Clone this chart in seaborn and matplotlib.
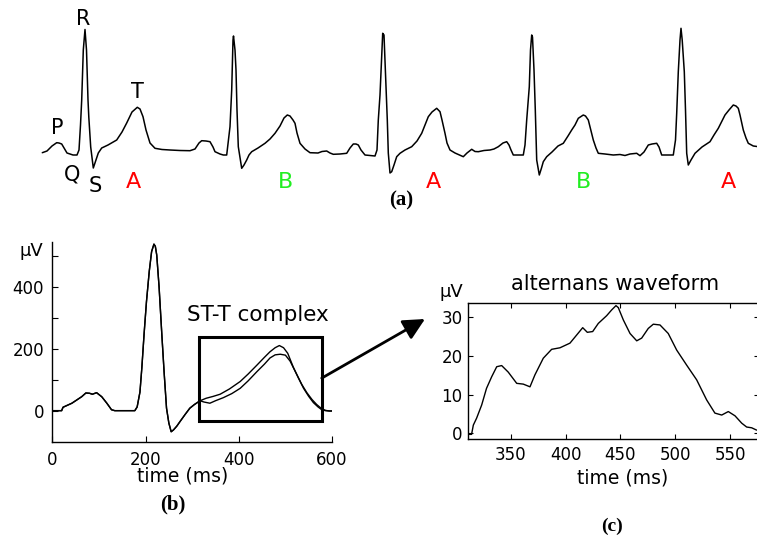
import matplotlib
matplotlib.use("Agg")
import matplotlib.pyplot as plt
from matplotlib.patches import Rectangle
import seaborn as sns

sns.set_theme(style="white")
plt.rcParams['font.family'] = ['DejaVu Sans']
plt.rcParams['text.color'] = 'black'
plt.rcParams['axes.labelcolor'] = 'black'
plt.rcParams['xtick.color'] = 'black'
plt.rcParams['ytick.color'] = 'black'

# ---- (a) ECG strip (sample position, amplitude) ----
strip_t = [42.3, 47, 52, 56.7, 59, 61.7, 64, 67, 73, 77, 79, 80.5, 81.7, 83.3, 85, 86.5, 88, 88.8,
           90.7, 93.3, 95, 98.3, 101.7, 108, 116.7, 122, 126.7, 132, 137.3, 140, 143, 146, 150,
           155, 162, 170, 180, 190, 195, 199, 201.7, 206, 210, 213, 215, 220, 223.3, 226.7,
           228.5, 230, 231.7, 233, 233.5, 235, 236, 237, 238.3, 241.7, 244, 246.7, 249, 251.7,
           258, 265, 270, 275, 280, 284, 287.3, 290, 293, 295, 297, 300, 305, 310, 318, 322,
           326.7, 330, 333.3, 340, 346.7, 350, 353.3, 356, 358.3, 361, 365, 370, 375, 377,
           378.3, 380, 381.5, 382.7, 384, 385, 386, 387.3, 388.3, 390, 391.7, 394, 396.7, 400,
           405, 411.7, 417, 421.7, 425, 428.3, 432, 436.7, 440, 442, 445, 447, 450, 455, 463.3,
           467, 471.7, 475, 478.3, 484, 490, 494, 498.3, 503, 506.7, 509, 511, 513.3, 518,
           523.3, 525, 526.7, 529.3, 530.5, 531.7, 532.5, 534, 535.3, 536.7, 539.3, 541.5,
           543.3, 546.7, 552, 558, 563.3, 568, 571.7, 575, 578.3, 583.3, 585.5, 588.3, 590,
           593.3, 596, 598.3, 605, 613.3, 620, 625, 630, 636.7, 640, 644, 648.3, 652, 656.7,
           659, 661.7, 667, 673.3, 675.5, 676.7, 678.3, 680, 681, 682.2, 684.3, 685.5, 686.7,
           688.3, 691, 695, 702, 710, 714, 718.3, 722, 725, 729, 733.3, 736, 738.3, 740, 743.3,
           746, 748.3, 753.3, 757]
strip_amp = [-0.7, 1, 6, 9.3, 9, 8, 4, -1, -3, -3, 2, 27, 52, 102, 122.5, 102, 52, 35,
             5, -16, -11, -1, 4, 7, 12, 20, 29, 40, 44.7, 43, 35.3, 22, 9,
             3.7, 2.5, 2, 1.5, 1.3, 3, 9, 11.3, 11, 10.3, 5, 0.3, -2, -3, -3,
             12, 25.3, 62, 112, 116, 102, 82, 42, 5.3, -16.3, -13, -8, -3, 0.3,
             4, 8.7, 13, 18.7, 26, 34, 37, 36, 32, 28.7, 19, 8.7, 3, -0.7, -1, 0.5,
             1, -1, -2.3, -2, -1.3, 4, 8, 8, 7, 2, -3, -3.5, -4, 2,
             32, 57, 92, 118.7, 117, 92, 65.3, 32, -1, -21, -19.7, -13, -4.7, -1.3,
             2, 5.3, 11, 18.7, 27, 35.3, 40, 43.7, 40.3, 32, 18.7, 9, 2, -1, -4.7,
             -1, 2.7, 0.5, 0.3, 1.5, 2, 3, 5.3, 9, 10.3, 7, 2, -3, -3,
             -3, 7, 32, 65.3, 102, 117, 115, 82, 42, -8, -23, -16,
             -9.7, -4.7, 0, 6, 8.7, 16, 22, 27, 33.7, 37, 36, 32, 25.3,
             12, 4, -1.3, -2, -3, -2.5, -3.5, -2, -1.3, -3.7, 0, 7, 8, 8.7,
             5, -3, -3, -3, 12, 38.7, 80.3, 112, 123.7, 112, 80.3, 42, -1.3,
             -13, -8, -1.3, 5, 10.3, 17, 23.7, 31, 37, 42, 47, 46, 43.7, 37, 22,
             14, 8.7, 6, 5.5]
wave_labels = ["P", "Q", "R", "S", "T"]
wave_label_t = [57, 72, 83, 95, 137]
wave_label_amp = [24.5, -22.5, 133, -34.5, 59.5]
beat_labels = ["A", "B", "A", "B", "A"]
beat_label_t = [133.5, 285, 433, 584, 728]

# ---- (b) averaged beat (ms, uV) ----
beat_t = [0, 20, 23, 42, 63, 72, 80, 86, 95, 100, 106, 117, 127, 134, 177, 182, 188, 192, 197,
          202, 208, 213, 218, 221, 224, 229, 235, 240, 245, 250, 255, 260, 267, 274, 285,
          295, 305, 317]
beat_v = [0, 0, 11, 24, 45, 57, 56, 53, 58, 52, 45, 24, 3, 0, 0, 12, 60, 137, 250,
          352, 450, 513, 537, 530, 502, 400, 244, 120, 8, -40, -68, -62, -50, -35, -12,
          8, 20, 32]
stt_upper_t = [317, 330, 345, 360, 380, 403, 420, 439, 455, 467, 478, 487, 496, 505, 517, 528,
               539, 550, 560, 570, 578, 586, 594, 600]
stt_upper_v = [32, 40, 46, 53, 70, 94, 118, 147, 172, 190, 203, 210, 203, 185, 140, 105,
               72, 46, 26, 12, 3, 0, -1, -1]
stt_lower_t = [317, 325, 338, 350, 367, 385, 403, 420, 439, 455, 467, 478, 489, 500, 510, 524,
               535, 546, 557, 567, 578, 586, 594, 600]
stt_lower_v = [32, 28, 24, 32, 42, 55, 72, 96, 126, 150, 170, 180, 182, 179, 160, 118,
               85, 58, 36, 20, 6, 1, -1, -1]

# ---- (c) alternans waveform (ms, uV) ----
alt_t = [312.3, 314.4, 316, 319, 323.6, 328, 332.7, 337.3, 341.8, 347.8, 355.5, 361.5, 367.6,
         372.1, 379.7, 387.3, 394.9, 404, 410.1, 415.6, 419.8, 424.7, 429.8, 437.4, 442,
         445.9, 448, 452.6, 458.7, 464.8, 469.3, 475.3, 479.9, 486, 493.5, 501.2, 510.3,
         519.4, 528.5, 536, 542.2, 548.2, 554.3, 560.4, 564.9, 569.5, 574]
alt_v = [-0.3, -0.3, 2.1, 3.9, 7.3, 11.6, 14.6, 17.2, 17.5, 15.8, 12.9, 12.7, 12.0,
         15.1, 19.4, 21.7, 22.1, 23.3, 25.4, 27.3, 26.1, 26.3, 28.4, 30.4, 31.9,
         33.0, 32.5, 29.3, 25.8, 23.9, 24.6, 27.1, 28.2, 28.0, 25.8, 21.5, 17.6,
         13.8, 8.6, 5.2, 4.7, 5.6, 4.5, 2.6, 1.6, 1.4, 0.8]

fig = plt.figure(figsize=(7.57, 5.38), dpi=100)

# (a)
ax_a = fig.add_axes([0, 0.6, 1, 0.4])
sns.lineplot(x=strip_t, y=strip_amp, ax=ax_a, color="black", lw=1.1, estimator=None, sort=False)
ax_a.set_xlim(0, 757)
ax_a.set_ylim(-63.2, 152)
ax_a.axis("off")
for lab, t, a in zip(wave_labels, wave_label_t, wave_label_amp):
    ax_a.text(t, a, lab, fontsize=15, ha="center", va="center")
for lab, t in zip(beat_labels, beat_label_t):
    ax_a.text(t, -30.5, lab, fontsize=16, ha="center", va="center",
              color="#ff0000" if lab == "A" else "#22ee22")
ax_a.text(401, -48, "(a)", fontsize=15, ha="center", va="center",
          family="Liberation Serif", fontweight="bold")

# (b)
ax_b = fig.add_axes([0.0691, 0.1779, 0.3695, 0.3729])
sns.lineplot(x=beat_t + stt_upper_t, y=beat_v + stt_upper_v, ax=ax_b, color="black", lw=1.0,
             estimator=None, sort=False)
sns.lineplot(x=beat_t + stt_lower_t, y=beat_v + stt_lower_v, ax=ax_b, color="black", lw=1.0,
             estimator=None, sort=False)
ax_b.set_xlim(0, 600)
ax_b.set_ylim(-102, 545)
ax_b.set_xticks([0, 200, 400, 600])
ax_b.set_yticks([0, 100, 200, 300, 400, 500])
ax_b.set_yticklabels(["0", "", "200", "", "400", ""])
sns.despine(ax=ax_b)
for s in ["left", "bottom"]:
    ax_b.spines[s].set_color("black")
    ax_b.spines[s].set_linewidth(1.0)
ax_b.tick_params(direction="in", length=4, width=0.8, labelsize=12, bottom=True, left=True,
                 colors="black")
ax_b.tick_params(axis="x", pad=6)
ax_b.tick_params(axis="y", pad=6)
ax_b.set_xlabel("time (ms)", fontsize=13.5)
ax_b.xaxis.set_label_coords(0.467, -0.123)
ax_b.text(-0.076, 0.9536, "μV", transform=ax_b.transAxes, fontsize=13, ha="center", va="center")
ax_b.add_patch(Rectangle((315, -33), 263, 272, fill=False, edgecolor="black", lw=2.2))
ax_b.text(441, 309, "ST-T complex", fontsize=15.5, ha="center", va="center")
ax_b.annotate("", xy=(425 / 757, 219 / 538), xycoords="figure fraction",
              xytext=(578, 105), textcoords="data", annotation_clip=False,
              arrowprops=dict(arrowstyle="-|>,head_length=0.5,head_width=0.25",
                              mutation_scale=26, lw=2, color="black", shrinkA=0, shrinkB=0))
fig.text(172.5 / 757, 1 - 504 / 538, "(b)", fontsize=15, ha="center", va="center",
         family="Liberation Serif", fontweight="bold")

# (c)
ax_c = fig.add_axes([0.6186, 0.184, 0.3844, 0.2522])
sns.lineplot(x=alt_t, y=alt_v, ax=ax_c, color="black", lw=1.0, estimator=None, sort=False)
ax_c.set_xlim(311.4, 576.4)
ax_c.set_ylim(-1.5, 33.6)
ax_c.set_xticks([350, 400, 450, 500, 550])
ax_c.set_yticks([0, 10, 20, 30])
for s in ax_c.spines.values():
    s.set_color("black")
    s.set_linewidth(1.0)
ax_c.tick_params(direction="in", length=3.5, width=0.8, labelsize=12, bottom=True, left=True,
                 top=True, right=True, colors="black")
ax_c.tick_params(axis="x", pad=5)
ax_c.tick_params(axis="y", pad=4)
ax_c.set_xlabel("time (ms)", fontsize=13.5)
ax_c.xaxis.set_label_coords(0.53, -0.2137)
ax_c.text(-0.0595, 1.083, "μV", transform=ax_c.transAxes, fontsize=13, ha="center", va="center")
ax_c.text(0.504, 1.098, "alternans waveform", transform=ax_c.transAxes, fontsize=15,
          ha="center", va="baseline")
fig.text(612.5 / 757, 1 - 526 / 538, "(c)", fontsize=14, ha="center", va="center",
         family="Liberation Serif", fontweight="bold")

fig.savefig("out.png", dpi=100)
